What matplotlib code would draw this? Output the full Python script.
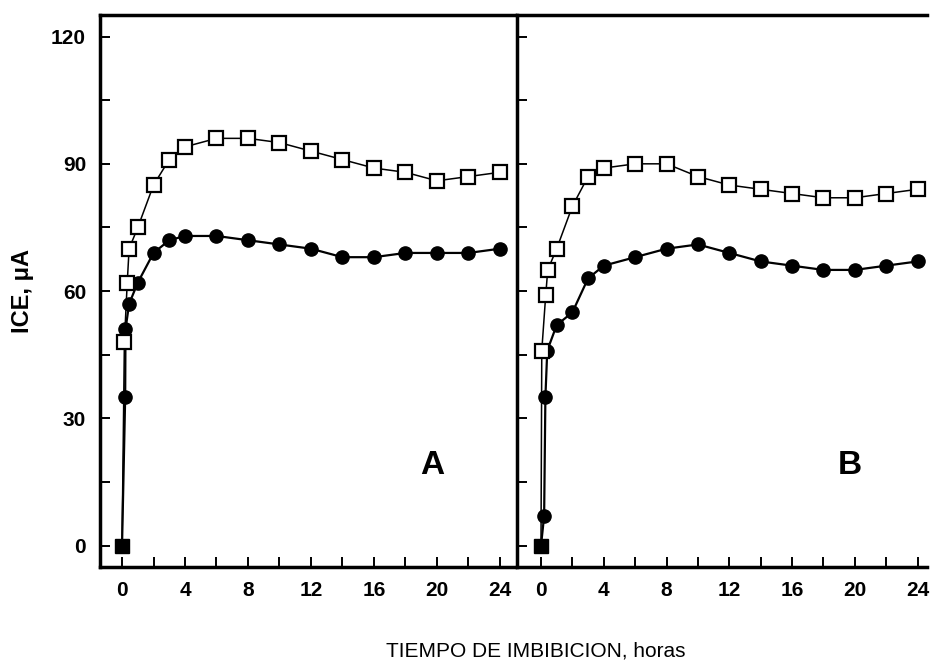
import numpy as np
import matplotlib.pyplot as plt
from matplotlib.ticker import MultipleLocator

plt.rcParams['font.family'] = ['Liberation Sans', 'DejaVu Sans']

# Panel A
a_sq_t = [0, 0.15, 0.33, 0.45, 1, 2, 3, 4, 6, 8, 10, 12, 14, 16, 18, 20, 22, 24]
a_sq_y = [0, 48, 62, 70, 75, 85, 91, 94, 96, 96, 95, 93, 91, 89, 88, 86, 87, 88]
a_ci_t = [0, 0.2, 0.22, 0.45, 1, 2, 3, 4, 6, 8, 10, 12, 14, 16, 18, 20, 22, 24]
a_ci_y = [0, 35, 51, 57, 62, 69, 72, 73, 73, 72, 71, 70, 68, 68, 69, 69, 69, 70]

# Panel B
b_sq_t = [0, 0.05, 0.3, 0.43, 1, 2, 3, 4, 6, 8, 10, 12, 14, 16, 18, 20, 22, 24]
b_sq_y = [0, 46, 59, 65, 70, 80, 87, 89, 90, 90, 87, 85, 84, 83, 82, 82, 83, 84]
b_ci_t = [0, 0.2, 0.28, 0.4, 1, 2, 3, 4, 6, 8, 10, 12, 14, 16, 18, 20, 22, 24]
b_ci_y = [0, 7, 35, 46, 52, 55, 63, 66, 68, 70, 71, 69, 67, 66, 65, 65, 66, 67]

fig = plt.figure(figsize=(9.31, 6.65), dpi=100)
ax_a = fig.add_axes([0.1074, 0.1474, 0.4456, 0.8296])
ax_b = fig.add_axes([0.5553, 0.1474, 0.4404, 0.8296])


def draw_panel(ax, sq_t, sq_y, ci_t, ci_y, letter, xlim):
    ax.plot(ci_t, ci_y, color='black', lw=1.6, marker='o', ms=9.5,
            markerfacecolor='black', markeredgecolor='black', zorder=3)
    ax.plot(sq_t, sq_y, color='black', lw=1.1, marker='s', ms=9.5,
            markerfacecolor='white', markeredgecolor='black', mew=1.6,
            markevery=list(range(1, len(sq_t))), zorder=4)
    # shared starting point at t=0
    ax.plot(sq_t[0], sq_y[0], marker='s', ms=10, color='black', zorder=5)
    ax.set_xlim(*xlim)
    ax.set_ylim(-5, 125)
    ax.xaxis.set_major_locator(MultipleLocator(4))
    ax.xaxis.set_minor_locator(MultipleLocator(2))
    ax.yaxis.set_major_locator(MultipleLocator(30))
    ax.yaxis.set_minor_locator(MultipleLocator(15))
    ax.tick_params(which='both', direction='in', length=7, width=1.4,
                   top=False, right=False, labelsize=15, pad=10)
    for lbl in ax.get_xticklabels() + ax.get_yticklabels():
        lbl.set_fontweight('bold')
    for side in ('left', 'bottom', 'top'):
        ax.spines[side].set_linewidth(2.5)
    ax.spines['right'].set_visible(False)
    ax.text(19.7, 18.8, letter, fontsize=24, fontweight='bold',
            ha='center', va='center')


draw_panel(ax_a, a_sq_t, a_sq_y, a_ci_t, a_ci_y, 'A', (-1.4, 24.95))
draw_panel(ax_b, b_sq_t, b_sq_y, b_ci_t, b_ci_y, 'B', (-1.53, 24.6))
ax_b.tick_params(labelleft=False)

ax_a.set_ylabel('ICE, \u03bcA', fontsize=17, fontweight='bold', labelpad=12)
fig.text(0.5757, 0.021, 'TIEMPO DE IMBIBICION, horas', fontsize=15,
         ha='center', va='center')

fig.savefig('out.png', dpi=100)
